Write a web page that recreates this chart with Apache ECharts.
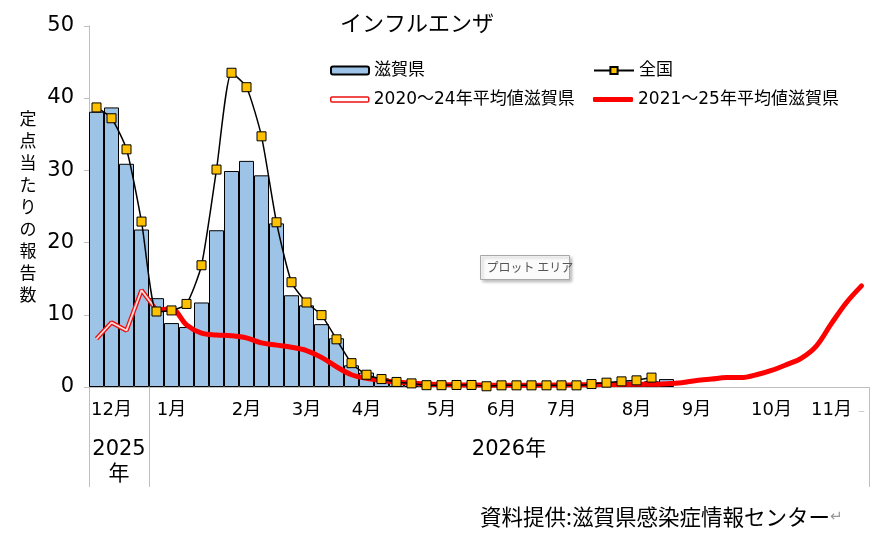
<!DOCTYPE html>
<html>
<head>
<meta charset="utf-8">
<script src="https://cdn.jsdelivr.net/npm/echarts@6.0.0/dist/echarts.min.js"></script>
<style>
  html, body { margin: 0; padding: 0; background: #fff; }
  #main { width: 877px; height: 533px; }
</style>
</head>
<body>
<div id="main"></div>
<script type="text/javascript">
// 週ごとのカテゴリ（2025年第49週〜2026年第48週）
var weeks = [];
for (var w = 49; w <= 52; w++) weeks.push('2025-' + w);
for (var w2 = 1; w2 <= 48; w2++) weeks.push('2026-' + w2);

// 月ラベル（カテゴリ番号 → 表示）
var monthLabels = {
    1: '12月', 5: '1月', 10: '2月', 14: '3月', 18: '4月', 23: '5月',
    27: '6月', 31: '7月', 36: '8月', 40: '9月', 45: '10月', 49: '11月'
};
var yearLabels = { 2: '2025\n年', 28: '2026年' };
var yearBounds = [0, 4, 52];

// 滋賀県（棒）
var shiga = [38.1, 38.7, 30.9, 21.8, 12.3, 8.85, 8.3, 11.7, 21.7, 29.9,
    31.3, 29.3, 22.65, 12.7, 11.3, 8.7, 6.75, 3.0, 2.0, 1.2,
    0.9, 0.6, 0.4, 0.3, 0.3, 0.2, 0.2, 0.2, 0.2, 0.2,
    0.2, 0.2, 0.3, 0.3, 0.4, 0.5, 0.6, 0.8, 1.1];

// 全国
var zenkoku = [38.7, 37.2, 32.9, 22.9, 10.45, 10.6, 11.5, 16.85, 30.1, 43.5,
    41.5, 34.7, 22.8, 14.5, 11.7, 9.95, 6.6, 3.3, 1.7, 1.1,
    0.7, 0.5, 0.25, 0.25, 0.28, 0.28, 0.1, 0.23, 0.23, 0.23,
    0.23, 0.23, 0.23, 0.41, 0.6, 0.78, 0.92, 1.3];

// 2020～24年平均値滋賀県
var avg2024 = [6.68, 8.93, 7.83, 13.4, 10.65];

// 2021～25年平均値滋賀県
var avg2025 = [null, null, null, null, 10.6, 10.8, 8.6, 7.45, 7.2, 7.1,
    6.8, 6.1, 5.8, 5.5, 5.05, 4.1, 2.8, 1.7, 1.2, 0.9,
    0.7, 0.55, 0.42, 0.35, 0.3, 0.28, 0.25, 0.25, 0.25, 0.25,
    0.25, 0.28, 0.3, 0.32, 0.35, 0.35, 0.38, 0.38, 0.45, 0.6,
    0.9, 1.1, 1.3, 1.3, 1.7, 2.3, 3.1, 4.0, 5.7, 8.8,
    11.7, 14.0];

var yTicks = [0, 10, 20, 30, 40, 50];

var JP = "'Noto Sans CJK JP', sans-serif";
var NUM = "'DejaVu Sans', 'Noto Sans CJK JP', sans-serif";

var myChart = echarts.init(document.getElementById('main'));

var option = {
    animation: false,
    backgroundColor: '#fff',
    title: {
        text: 'インフルエンザ',
        left: 417,
        top: 12,
        padding: 0,
        textAlign: 'center',
        textStyle: { fontFamily: JP, fontSize: 22, fontWeight: 'normal', color: '#000' }
    },
    legend: [
        {
            data: [{ name: '滋賀県', icon: 'roundRect', itemStyle: { borderWidth: 2 } }],
            left: 330, top: 62, padding: 0,
            itemWidth: 38, itemHeight: 8,
            textStyle: { fontFamily: NUM, fontSize: 17, color: '#000' }
        },
        {
            data: ['全国'],
            left: 593, top: 62, padding: 0,
            itemWidth: 40, itemHeight: 9,
            textStyle: { fontFamily: NUM, fontSize: 17, color: '#000' }
        },
        {
            data: [{ name: '2020～24年平均値滋賀県', icon: 'roundRect',
                itemStyle: { color: '#fff', borderColor: '#ee1111', borderWidth: 1.5 } }],
            left: 330, top: 91, padding: 0,
            itemWidth: 38, itemHeight: 5,
            textStyle: { fontFamily: NUM, fontSize: 17, color: '#000' }
        },
        {
            data: [{ name: '2021～25年平均値滋賀県', icon: 'roundRect',
                itemStyle: { color: '#ff0000', borderWidth: 0 } }],
            left: 593, top: 91, padding: 0,
            itemWidth: 40, itemHeight: 5,
            textStyle: { fontFamily: NUM, fontSize: 17, color: '#000' }
        }
    ],
    grid: { left: 89, top: 25.8, width: 780, height: 361.2, containLabel: false },
    xAxis: [
        {
            type: 'category',
            data: weeks,
            boundaryGap: true,
            axisLine: { lineStyle: { color: '#bfbfbf', width: 1 } },
            axisTick: { show: false },
            axisLabel: {
                interval: 0,
                margin: 14,
                fontFamily: NUM,
                fontSize: 18,
                color: '#000',
                formatter: function (v, i) {
                    if (i === weeks.length - 1) return '{g|_}';
                    return monthLabels[i] || '';
                },
                rich: { g: { color: '#c0c0c0', fontSize: 11, fontFamily: NUM } }
            }
        },
        {
            type: 'value',
            min: 0,
            max: weeks.length,
            position: 'bottom',
            axisLine: { show: false },
            splitLine: { show: false },
            axisTick: {
                show: true,
                customValues: yearBounds,
                length: 100,
                lineStyle: { color: '#bfbfbf', width: 1 }
            },
            axisLabel: {
                show: true,
                customValues: [2, 28],
                margin: 50,
                verticalAlign: 'top',
                lineHeight: 25,
                fontFamily: NUM,
                fontSize: 21,
                color: '#000',
                formatter: function (v) { return yearLabels[v] || ''; }
            }
        }
    ],
    yAxis: {
        type: 'value',
        min: yTicks[0],
        max: yTicks[yTicks.length - 1],
        interval: 10,
        name: '定点当たりの報告数'.split('').join('\n'),
        nameLocation: 'middle',
        nameRotate: 0,
        nameGap: 61,
        nameTextStyle: {
            fontFamily: JP, fontSize: 17, lineHeight: 22, color: '#000',
            align: 'center', verticalAlign: 'middle'
        },
        axisLine: { show: true, lineStyle: { color: '#bfbfbf', width: 1 } },
        axisTick: { show: true, length: 5, lineStyle: { color: '#bfbfbf' } },
        splitLine: { show: false },
        axisLabel: { margin: 15, fontFamily: NUM, fontSize: 21, color: '#000' }
    },
    series: [
        {
            name: '滋賀県',
            type: 'bar',
            data: shiga,
            barCategoryGap: '0%',
            z: 1,
            itemStyle: { color: '#9dc3e6', borderColor: '#000', borderWidth: 1 }
        },
        {
            name: '2020～24年平均値滋賀県',
            type: 'line',
            data: avg2024,
            symbol: 'none',
            z: 2,
            lineStyle: { color: '#ee1111', width: 4.5 },
            itemStyle: { color: '#ee1111' }
        },
        {
            name: '2020～24年平均値滋賀県(中)',
            type: 'line',
            data: avg2024,
            symbol: 'none',
            z: 3,
            silent: true,
            lineStyle: { color: '#ffdede', width: 1.8 }
        },
        {
            name: '2021～25年平均値滋賀県',
            type: 'line',
            data: avg2025,
            symbol: 'none',
            smooth: 0.35,
            z: 4,
            lineStyle: { color: '#ff0000', width: 5, cap: 'round' },
            itemStyle: { color: '#ff0000' }
        },
        {
            name: '全国',
            type: 'line',
            data: zenkoku,
            smooth: 0.2,
            symbol: 'rect',
            symbolSize: 9,
            z: 5,
            lineStyle: { color: '#000', width: 1.5 },
            itemStyle: { color: '#ffc000', borderColor: '#000', borderWidth: 1 }
        }
    ],
    graphic: [
        {
            type: 'group',
            left: 480,
            top: 255,
            children: [
                {
                    type: 'rect',
                    shape: { x: 0, y: 0, width: 89, height: 24 },
                    style: {
                        fill: '#fbfbfb', stroke: '#a8a8a8', lineWidth: 1,
                        shadowBlur: 3, shadowOffsetX: 2, shadowOffsetY: 2,
                        shadowColor: 'rgba(0,0,0,0.25)'
                    }
                },
                {
                    type: 'text',
                    x: 6, y: 12,
                    style: {
                        text: 'プロット エリア',
                        fontFamily: JP, fontSize: 12, fill: '#555',
                        verticalAlign: 'middle'
                    }
                }
            ]
        },
        {
            type: 'text',
            left: 480,
            top: 506,
            style: {
                text: '{a|資料提供:滋賀県感染症情報センター}{b|↵}',
                rich: {
                    a: { fontFamily: JP, fontSize: 21.5, fill: '#000' },
                    b: { fontFamily: NUM, fontSize: 15, fill: '#999' }
                }
            }
        }
    ]
};

myChart.setOption(option);
</script>
</body>
</html>
